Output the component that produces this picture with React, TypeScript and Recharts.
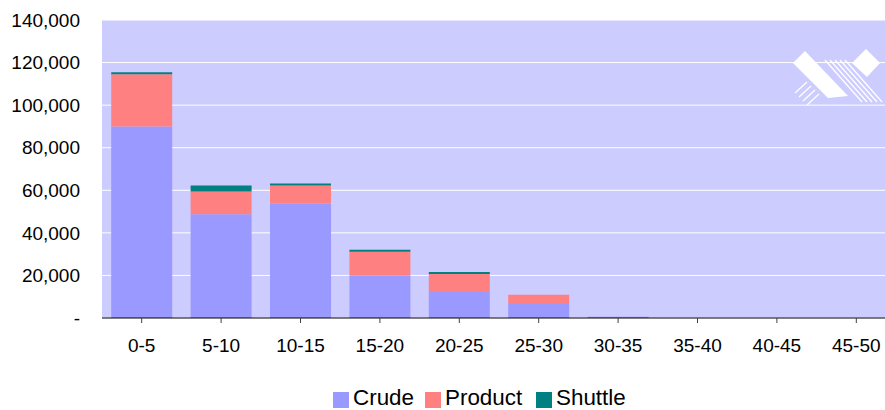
import React from 'react';
import { BarChart, Bar, XAxis, YAxis, CartesianGrid, Legend } from 'recharts';

const categories = ['0-5', '5-10', '10-15', '15-20', '20-25', '25-30', '30-35', '35-40', '40-45', '45-50'];
const crude = [90000, 48700, 53700, 19800, 12200, 7100, 600, 0, 0, 0];
const product = [24500, 10700, 8500, 11300, 8500, 3800, 0, 0, 0, 0];
const shuttle = [1000, 2800, 950, 950, 950, 0, 0, 0, 0, 0];
const yTicks = [0, 20000, 40000, 60000, 80000, 100000, 120000, 140000];

const seriesNames = ['Crude', 'Product', 'Shuttle'];
const seriesColors = ['#9999FF', '#FF8080', '#008080'];
const legendX = [333, 425, 536];

const data = categories.map((c, i) => ({
  name: c,
  Crude: crude[i],
  Product: product[i],
  Shuttle: shuttle[i],
}));

const FONT = '"Liberation Sans", Arial, sans-serif';

const fmt = (v: number) => (v === 0 ? '-' : v.toLocaleString('en-US'));

const LegendContent = () => (
  <div
    style={{
      position: 'relative',
      height: 22,
      width: 885,
      fontFamily: FONT,
      fontSize: 22.4,
      lineHeight: '22px',
      color: '#000',
    }}
  >
    {seriesNames.map((n, i) => (
      <div
        key={n}
        style={{ position: 'absolute', left: legendX[i], top: 0, display: 'flex', alignItems: 'flex-start', whiteSpace: 'nowrap' }}
      >
        <div style={{ width: 16, height: 16, background: seriesColors[i], marginTop: 5, marginRight: 4 }} />
        <span>{n}</span>
      </div>
    ))}
  </div>
);

const Logo = () => (
  <svg
    width={885}
    height={410}
    style={{ position: 'absolute', left: 0, top: 0, pointerEvents: 'none' }}
  >
    <polygon points="805,51 793,63 828,98 848,96" fill="#fff" />
    <polygon points="866,49 880,63 867,77 852,63" fill="#fff" />
    {[0, 5, 10, 15, 20].map((d) => (
      <line key={'a' + d} x1={825 + d} y1={60} x2={862 + d} y2={102} stroke="#fff" strokeWidth={1.3} />
    ))}
    {[0, 1, 2, 3].map((i) => (
      <line
        key={'b' + i}
        x1={795 + i * 4}
        y1={93 + i * 4}
        x2={807 + i * 4}
        y2={82 + i * 4}
        stroke="#fff"
        strokeWidth={1.3}
      />
    ))}
  </svg>
);

export default function App() {
  return (
    <div
      style={{
        position: 'fixed',
        left: 0,
        top: 0,
        width: 885,
        height: 410,
        overflow: 'hidden',
        background: '#fff',
      }}
    >
      <BarChart
        width={900}
        height={410}
        data={data}
        margin={{ top: 20, right: 4, bottom: 1, left: 0 }}
        barCategoryGap="11.6%"
      >
        <CartesianGrid
          horizontal={true}
          vertical={false}
          stroke="#FFFFFF"
          strokeWidth={1}
          fill="#CCCCFF"
          fillOpacity={1}
        />
        <XAxis
          dataKey="name"
          height={69}
          tickSize={5}
          tickMargin={16}
          axisLine={{ stroke: '#000000', strokeWidth: 1 }}
          tickLine={{ stroke: '#404040', strokeWidth: 1 }}
          tick={{ fill: '#000', fontSize: 19, fontFamily: FONT }}
          interval={0}
        />
        <YAxis
          width={102}
          domain={[0, 140000]}
          ticks={yTicks}
          tickFormatter={fmt}
          axisLine={false}
          tickLine={false}
          tickSize={0}
          tickMargin={22}
          tick={{ fill: '#000', fontSize: 19, fontFamily: FONT }}
          interval={0}
        />
        <Legend verticalAlign="bottom" content={<LegendContent />} wrapperStyle={{ left: 0 }} />
        {seriesNames.map((n, i) => (
          <Bar key={n} dataKey={n} stackId="a" fill={seriesColors[i]} isAnimationActive={false} />
        ))}
      </BarChart>
      <Logo />
    </div>
  );
}
